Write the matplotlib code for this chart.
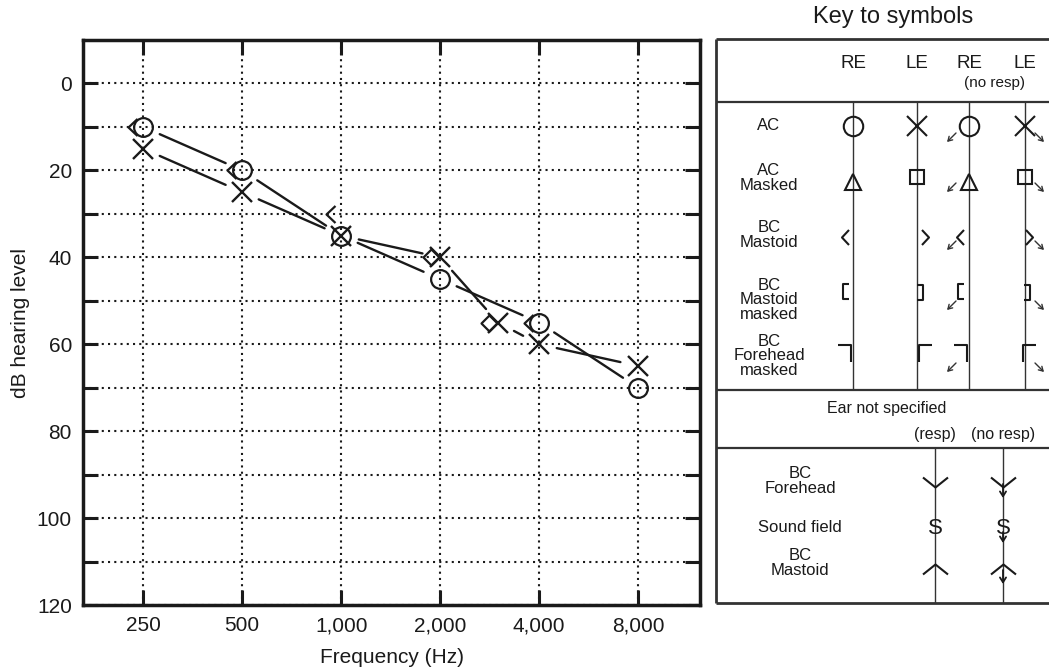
import numpy as np
import matplotlib
matplotlib.use('Agg')
import matplotlib.pyplot as plt
from matplotlib.path import Path
from matplotlib.ticker import NullLocator

plt.rcParams['font.family'] = ['Liberation Sans', 'DejaVu Sans']

# audiogram data (dB HL)
freqs = [250, 500, 1000, 2000, 4000, 8000]
freq_labels = ['250', '500', '1,000', '2,000', '4,000', '8,000']
db_ticks = [0, 20, 40, 60, 80, 100, 120]

re_ac_freqs = [250, 500, 1000, 2000, 4000, 8000]
re_ac_db = [10, 20, 35, 45, 55, 70]
le_ac_freqs = [250, 500, 1000, 2000, 3000, 4000, 8000]
le_ac_db = [15, 25, 35, 40, 55, 60, 65]
re_bc_freqs = [250, 500, 1000, 4000]
re_bc_db = [10, 20, 30, 55]
both_bc_freqs = [2000, 3000]
both_bc_db = [40, 55]

INK = '#1a1a1a'
KEY = '#333333'
W, H = 1049, 672


def px_marker(verts):
    # open path marker given in pixel offsets; returns path and markersize (pt)
    verts = np.asarray(verts, float)
    codes = [Path.MOVETO] + [Path.LINETO] * (len(verts) - 1)
    return Path(verts, codes), 2 * np.abs(verts).max() * 0.72


fig = plt.figure(figsize=(W / 100, H / 100), dpi=100)
ax = fig.add_axes([83 / W, 1 - 605 / H, (700 - 83) / W, (605 - 40) / H])

ax.set_xscale('log', base=2)
ax.set_xlim(164, 12345)
ax.set_ylim(120, -10)
ax.set_xticks(freqs)
ax.set_xticklabels(freq_labels)
ax.xaxis.set_minor_locator(NullLocator())
ax.set_yticks(db_ticks)
ax.set_yticks(range(10, 120, 20), minor=True)
ax.tick_params(which='both', direction='in', length=11, width=2.2, top=True,
               right=True, color=INK, labelsize=15, labelcolor=INK, pad=8)
for s in ax.spines.values():
    s.set_linewidth(2.5)
    s.set_color(INK)
ax.grid(True, which='both', axis='y', ls=(0, (1, 2)), lw=1.5, color=INK)
ax.grid(True, which='major', axis='x', ls=(0, (1, 2)), lw=1.5, color=INK)
ax.set_axisbelow(True)
ax.set_xlabel('Frequency (Hz)', fontsize=15, color=INK, labelpad=9)
ax.set_ylabel('dB hearing level', fontsize=15, color=INK, labelpad=5)


def gapped(xs, ys, gap=13):
    for x0, y0, x1, y1 in zip(xs[:-1], ys[:-1], xs[1:], ys[1:]):
        ax.annotate('', xy=(x1, y1), xytext=(x0, y0),
                    arrowprops=dict(arrowstyle='-', lw=1.7, color=INK,
                                    shrinkA=gap, shrinkB=gap))


gapped(re_ac_freqs, re_ac_db)
gapped(le_ac_freqs, le_ac_db)

ax.plot(re_ac_freqs, re_ac_db, ls='none', marker='o', ms=13.5, mfc='none',
        mec=INK, mew=1.6)
ax.plot(le_ac_freqs, le_ac_db, ls='none', marker='x', ms=14, mec=INK, mew=1.7)
lt_path, lt_ms = px_marker([(-6, 8.5), (-15, 0), (-6, -8.5)])
ax.plot(re_bc_freqs, re_bc_db, ls='none', marker=lt_path, ms=lt_ms,
        mfc='none', mec=INK, mew=1.6)
dm_path, dm_ms = px_marker([(-1, 0), (-9, 8), (-17, 0), (-9, -8), (-1, 0)])
ax.plot(both_bc_freqs, both_bc_db, ls='none', marker=dm_path, ms=dm_ms,
        mfc='none', mec=INK, mew=1.6)

# ---- key to symbols (pixel layout) ----
k = fig.add_axes([0, 0, 1, 1], zorder=-1)
k.set_xlim(0, W)
k.set_ylim(H, 0)
k.axis('off')


def hline(y, x0=716, x1=W, lw=1.6):
    k.plot([x0, x1], [y, y], color=KEY, lw=lw, solid_capstyle='butt')


def vline(x, y0, y1, lw=1.0):
    k.plot([x, x], [y0, y1], color=KEY, lw=lw, solid_capstyle='butt')


hline(39, lw=2)
hline(603, lw=2)
vline(716, 39, 603, lw=2)
hline(102)
hline(390)
hline(448)
for x in [853, 917, 969, 1025]:
    vline(x, 102, 390)
for x in [935, 1003]:
    vline(x, 448, 603)

k.text(893, 17, 'Key to symbols', ha='center', va='center', fontsize=17, color=INK)
for x, t in [(853, 'RE'), (917, 'LE'), (970, 'RE'), (1025, 'LE')]:
    k.text(x, 63, t, ha='center', va='center', fontsize=13.5, color=INK)
k.text(995, 83, '(no resp)', ha='center', va='center', fontsize=11, color=INK)

row_labels = ['AC', 'AC\nMasked', 'BC\nMastoid', 'BC\nMastoid\nmasked',
              'BC\nForehead\nmasked']
row_y = [126, 178, 235, 300, 356]
for t, y in zip(row_labels, row_y):
    k.text(769, y, t, ha='center', va='center', fontsize=12, color=INK,
           linespacing=0.95)

k.text(887, 409, 'Ear not specified', ha='center', va='center', fontsize=11.5, color=INK)
k.text(935, 435, '(resp)', ha='center', va='center', fontsize=11.5, color=INK)
k.text(1003, 435, '(no resp)', ha='center', va='center', fontsize=11.5, color=INK)
for t, y in zip(['BC\nForehead', 'Sound field', 'BC\nMastoid'], [481, 527, 563]):
    k.text(800, y, t, ha='center', va='center', fontsize=12, color=INK,
           linespacing=0.95)

sym = dict(ls='none', mfc='none', mec=INK, mew=1.5)
k.plot([853, 969], [126, 126], marker='o', ms=14, **sym)
k.plot([917, 1025], [126, 126], marker='x', ms=14, **sym)
k.plot([853, 969], [182, 182], marker='^', ms=12, **sym)
k.plot([917, 1025], [177, 177], marker='s', ms=9.5, **sym)

p, m = px_marker([(3.5, 7.5), (-3.5, 0), (3.5, -7.5)])
k.plot([845, 960], [237, 237], marker=p, ms=m, **sym)
p, m = px_marker([(-3.5, 7.5), (3.5, 0), (-3.5, -7.5)])
k.plot([925, 1029], [237, 237], marker=p, ms=m, **sym)
p, m = px_marker([(3, 7.5), (-3, 7.5), (-3, -7.5), (3, -7.5)])
k.plot([846, 961], [291, 291], marker=p, ms=m, **sym)
p, m = px_marker([(-3, 7.5), (3, 7.5), (3, -7.5), (-3, -7.5)])
k.plot([920, 1027], [292, 292], marker=p, ms=m, **sym)
p, m = px_marker([(-7, 8), (6, 8), (6, -9)])
k.plot([845, 961], [353, 353], marker=p, ms=m, **sym)
p, m = px_marker([(-6, -9), (-6, 8), (7, 8)])
k.plot([925, 1029], [353, 353], marker=p, ms=m, **sym)

arr = dict(arrowstyle='->,head_length=0.3,head_width=0.18', lw=1.0, color=KEY,
           shrinkA=0, shrinkB=0)
for y in [133, 183, 241, 301, 363]:
    k.annotate('', xy=(947, y + 9), xytext=(956, y), arrowprops=arr)
    k.annotate('', xy=(1044, y + 9), xytext=(1035, y), arrowprops=arr)

p, m = px_marker([(-12.5, 5), (0, -5), (12.5, 5)])
k.plot([935, 1003], [482, 482], marker=p, ms=m, **sym)
p, m = px_marker([(-12.5, -5), (0, 5), (12.5, -5)])
k.plot([935, 1003], [569, 569], marker=p, ms=m, **sym)
for x in [935, 1003]:
    k.text(x, 528, 'S', ha='center', va='center', fontsize=16, color=INK)
down = dict(arrowstyle='->,head_length=0.35,head_width=0.22', lw=1.3, color=INK,
            shrinkA=0, shrinkB=0)
for y0, y1 in [(484, 498), (532, 543), (570, 584)]:
    k.annotate('', xy=(1003, y1), xytext=(1003, y0), arrowprops=down)

fig.savefig('out.png', dpi=100)
